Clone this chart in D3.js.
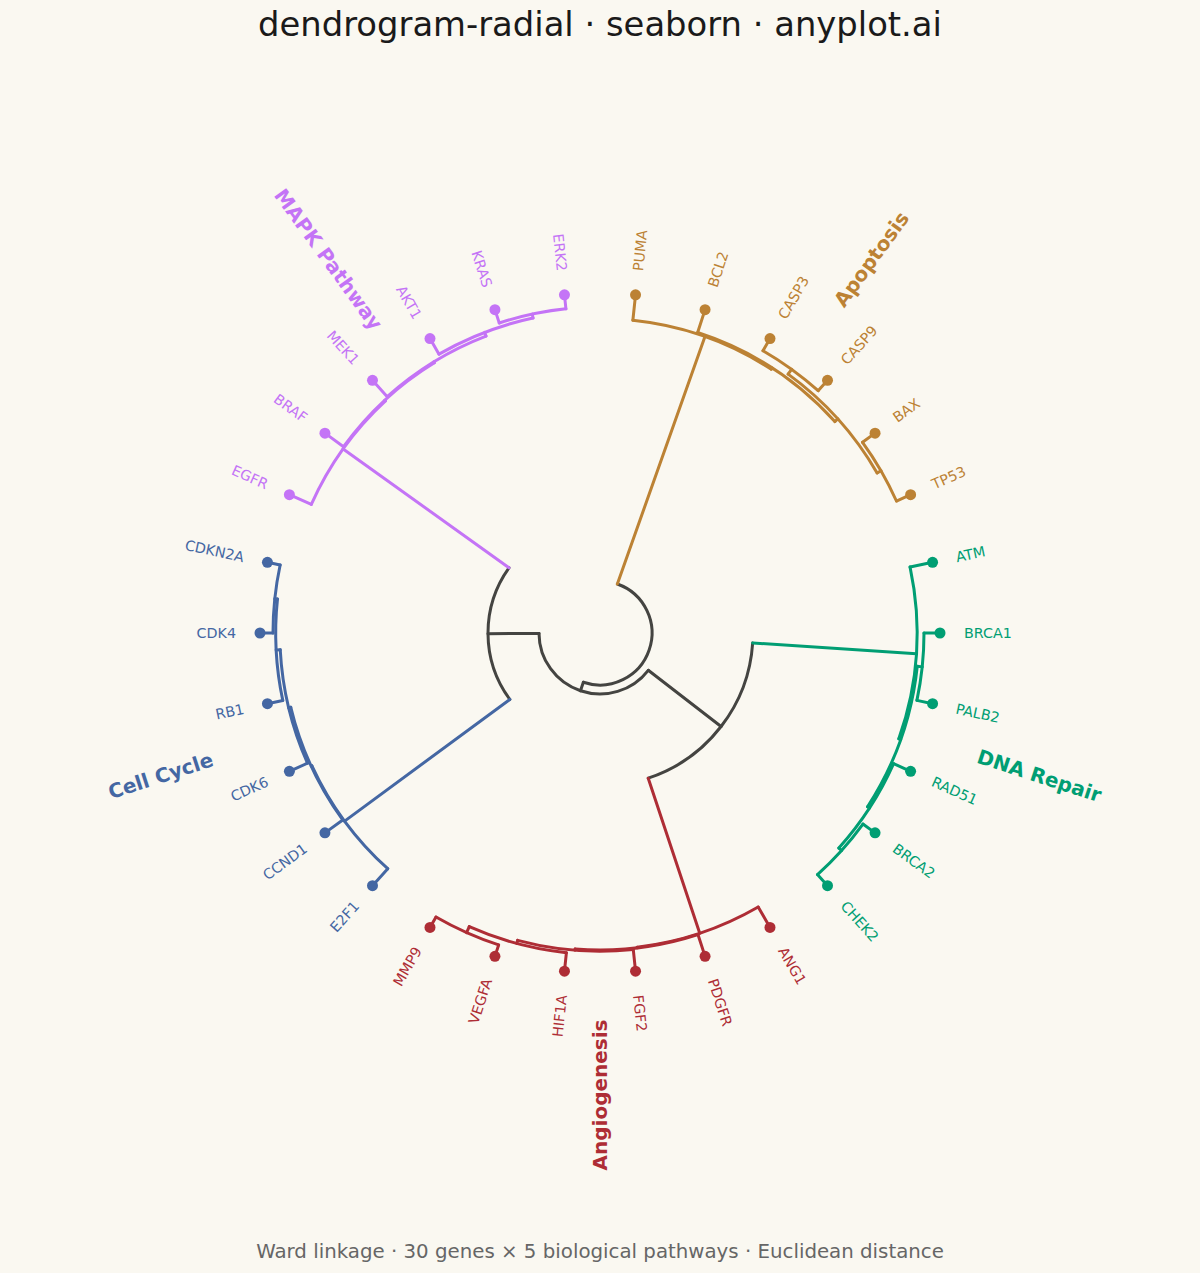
<!DOCTYPE html>
<html>
<head>
<meta charset="utf-8">
<script src="https://cdn.jsdelivr.net/npm/d3@7"></script>
<style>
  html, body { margin: 0; padding: 0; background: #FAF8F1; }
  svg { display: block; }
</style>
</head>
<body>
<svg id="chart" width="1200" height="1273"></svg>
<script>
// ---- data ----
const leaves = ["PUMA","BCL2","CASP3","CASP9","BAX","TP53",
  "ATM","BRCA1","PALB2","RAD51","BRCA2","CHEK2",
  "ANG1","PDGFR","FGF2","HIF1A","VEGFA","MMP9",
  "E2F1","CCND1","CDK6","RB1","CDK4","CDKN2A",
  "EGFR","BRAF","MEK1","AKT1","KRAS","ERK2"];
const leafCluster = [0,0,0,0,0,0, 1,1,1,1,1,1, 2,2,2,2,2,2, 3,3,3,3,3,3, 4,4,4,4,4,4];
const clusters = ["Apoptosis","DNA Repair","Angiogenesis","Cell Cycle","MAPK Pathway"];
const clusterColors = ["#BC8234","#009E73","#AE2D35","#4467A3","#C474F6"];
// linkage rows: [childA, childB, height]; index < 30 = leaf, >= 30 = row (index-30)
const linkA = [2,4,30,1,0,   10,7,9,36,6,   16,15,14,13,12,  22,21,20,19,18,  28,27,26,25,24,  54,39,55,34];
const linkB = [3,5,31,32,33, 11,8,35,37,38, 17,40,41,42,43,  23,45,46,47,48,  29,50,51,52,53,  49,44,56,57];
const linkH = [1.4,1.55,2.0,2.4,2.55, 1.5,1.6,1.86,2.1,2.3, 1.2,1.86,2.18,2.3,2.36,
               1.3,1.57,1.98,2.2,2.28, 1.4,1.8,2.2,2.3,2.4, 22.8,18.7,27.9,28.8];

// ---- layout ----
const W = 1200, H = 1273, cx = 600, cy = 633;
const svg = d3.select("#chart");
const grey = "#444441";
const angle = d3.scalePoint().domain(leaves).range([6, 354]);     // degrees, 0 = top, clockwise
const radius = d3.scaleLinear().domain([0, d3.max(linkH)]).range([340, 52]);

const N = leaves.length;
const nodeAngle = [], nodeH = [], nodeCluster = [];
leaves.forEach((l, i) => { nodeAngle[i] = angle(l); nodeH[i] = 0; nodeCluster[i] = leafCluster[i]; });
linkA.forEach((a, k) => {
  const b = linkB[k], id = N + k;
  nodeAngle[id] = (nodeAngle[a] + nodeAngle[b]) / 2;
  nodeH[id] = linkH[k];
  nodeCluster[id] = (nodeCluster[a] === nodeCluster[b]) ? nodeCluster[a] : -1;
});
const colorOf = c => c >= 0 ? clusterColors[c] : grey;
const rad = d => d * Math.PI / 180;
const px = (a, r) => cx + r * Math.sin(rad(a));
const py = (a, r) => cy - r * Math.cos(rad(a));

const g = svg.append("g");
const LW = 3;

// links
linkA.forEach((a, k) => {
  const b = linkB[k], id = N + k;
  const rp = radius(nodeH[id]);
  const a0 = Math.min(nodeAngle[a], nodeAngle[b]), a1 = Math.max(nodeAngle[a], nodeAngle[b]);
  const p = d3.path();
  p.moveTo(px(a0, rp), py(a0, rp));
  p.arc(cx, cy, rp, rad(a0 - 90), rad(a1 - 90), false);
  g.append("path").attr("d", p.toString()).attr("fill", "none")
    .attr("stroke", colorOf(nodeCluster[id])).attr("stroke-width", LW)
    .attr("stroke-linecap", "round");
  [a, b].forEach(c => {
    const rc = radius(nodeH[c]);
    g.append("line")
      .attr("x1", px(nodeAngle[c], rc)).attr("y1", py(nodeAngle[c], rc))
      .attr("x2", px(nodeAngle[c], rp)).attr("y2", py(nodeAngle[c], rp))
      .attr("stroke", colorOf(nodeCluster[c])).attr("stroke-width", LW)
      .attr("stroke-linecap", "round");
  });
});

// leaf dots
g.selectAll("circle.leaf").data(leaves).join("circle")
  .attr("class", "leaf")
  .attr("cx", d => px(angle(d), radius(0)))
  .attr("cy", d => py(angle(d), radius(0)))
  .attr("r", 5.5)
  .attr("fill", (d, i) => clusterColors[leafCluster[i]]);

// leaf labels
const labelR = 364;
g.selectAll("text.leaf").data(leaves).join("text")
  .attr("class", "leaf")
  .attr("transform", d => {
    const a = angle(d);
    const rot = a < 180 ? a - 90 : a - 270;
    return `translate(${px(a, labelR)},${py(a, labelR)}) rotate(${rot})`;
  })
  .attr("text-anchor", d => angle(d) < 180 ? "start" : "end")
  .attr("dominant-baseline", "central")
  .attr("font-family", "DejaVu Sans, sans-serif")
  .attr("font-size", 14.3)
  .attr("fill", (d, i) => clusterColors[leafCluster[i]])
  .text(d => d);

// cluster labels
const clusterR = 462;
g.selectAll("text.cluster").data(clusters).join("text")
  .attr("class", "cluster")
  .attr("transform", (d, ci) => {
    const a = d3.mean(leaves.filter((l, i) => leafCluster[i] === ci), l => angle(l));
    const rot = a < 180 ? a - 90 : a - 270;
    return `translate(${px(a, clusterR)},${py(a, clusterR)}) rotate(${rot})`;
  })
  .attr("text-anchor", "middle")
  .attr("dominant-baseline", "central")
  .attr("font-family", "DejaVu Sans, sans-serif")
  .attr("font-weight", "bold")
  .attr("font-size", 20)
  .attr("fill", (d, ci) => clusterColors[ci])
  .text(d => d);

// title & subtitle
svg.append("text").attr("x", W / 2).attr("y", 24)
  .attr("text-anchor", "middle").attr("dominant-baseline", "central")
  .attr("font-family", "DejaVu Sans, sans-serif").attr("font-size", 33.8)
  .attr("fill", "#1a1a1a")
  .text("dendrogram-radial · seaborn · anyplot.ai");
svg.append("text").attr("x", W / 2).attr("y", 1251)
  .attr("text-anchor", "middle").attr("dominant-baseline", "central")
  .attr("font-family", "DejaVu Sans, sans-serif").attr("font-size", 19.8)
  .attr("fill", "#666666")
  .text("Ward linkage · 30 genes × 5 biological pathways · Euclidean distance");
</script>
</body>
</html>
